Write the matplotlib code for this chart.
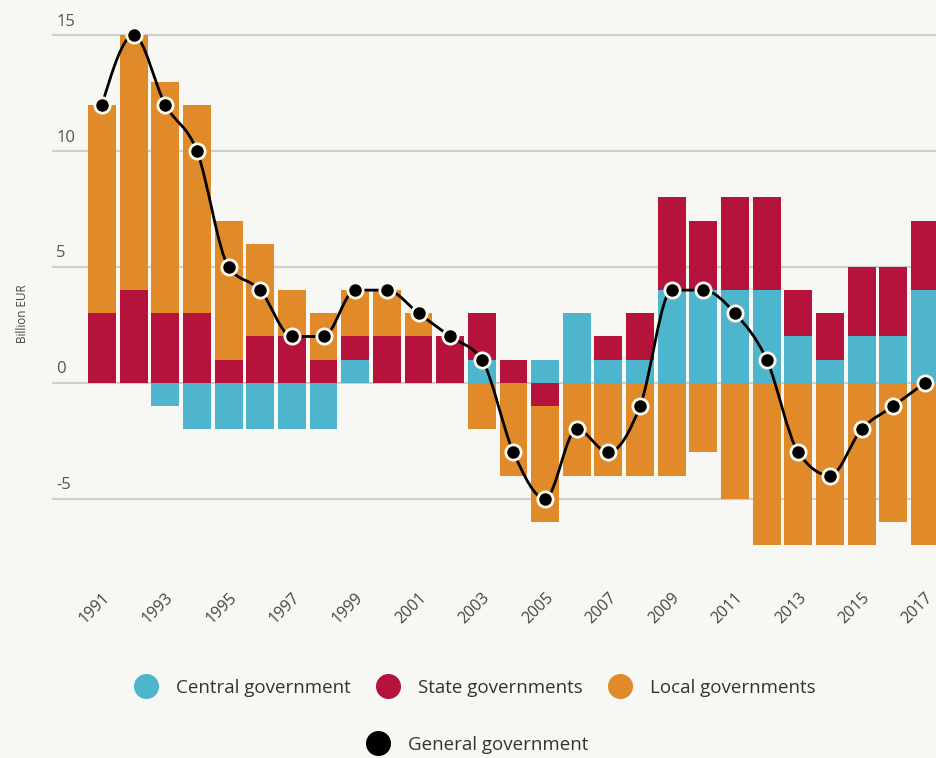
import matplotlib.pyplot as plt
import numpy as np
from matplotlib.path import Path
from matplotlib.patches import PathPatch
from matplotlib.lines import Line2D
from matplotlib.transforms import blended_transform_factory, offset_copy

plt.rcParams['font.family'] = ['Open Sans', 'DejaVu Sans']

years   = np.arange(1991, 2018)
central = [0, 0, -1, -2, -2, -2, -2, -2, 1, 0, 0, 0, 1, 0, 1, 3, 1, 1, 4, 4, 4, 4, 2, 1, 2, 2, 4]
state   = [3, 4, 3, 3, 1, 2, 2, 1, 1, 2, 2, 2, 2, 1, -1, 0, 1, 2, 4, 3, 4, 4, 2, 2, 3, 3, 3]
local   = [9, 11, 10, 9, 6, 4, 2, 2, 2, 2, 1, 0, -2, -4, -5, -4, -4, -4, -4, -3, -5, -7, -7, -7, -7, -6, -7]
general = [12, 15, 12, 10, 5, 4, 2, 2, 4, 4, 3, 2, 1, -3, -5, -2, -3, -1, 4, 4, 3, 1, -3, -4, -2, -1, 0]
yticks  = [15, 10, 5, 0, -5]
xlabels = years[::2]

bg     = '#f7f7f3'
c_cent = '#4fb5cd'
c_stat = '#b5123c'
c_loc  = '#e08a2a'

fig = plt.figure(figsize=(9.36, 7.58), dpi=100, facecolor=bg)
ax = fig.add_axes([52/936, 1-559/758, 884/936, 547/758], facecolor=bg)
ax.set_xlim(1989.42, 2017.35)
ax.set_ylim(-7.6, 16.0)

# stacked bars, positives upward and negatives downward from zero
pos = np.zeros(len(years))
neg = np.zeros(len(years))
for vals, col in [(central, c_cent), (state, c_stat), (local, c_loc)]:
    v = np.array(vals, dtype=float)
    p = np.where(v > 0, v, 0)
    n = np.where(v < 0, v, 0)
    ax.bar(years, p, bottom=pos, width=0.88, color=col, zorder=2, linewidth=0)
    ax.bar(years, n, bottom=neg, width=0.88, color=col, zorder=2, linewidth=0)
    pos += p
    neg += n

for t in yticks:
    ax.axhline(t, color='#cfcfcb', lw=1.6, zorder=1)

# monotone cubic curve through the general government points
x = years.astype(float)
g = np.array(general, dtype=float)
h = np.diff(x)
s = np.diff(g) / h
tan = np.zeros(len(x))
for i in range(1, len(x) - 1):
    p = (s[i-1] * h[i] + s[i] * h[i-1]) / (h[i-1] + h[i])
    tan[i] = (np.sign(s[i-1]) + np.sign(s[i])) * min(abs(s[i-1]), abs(s[i]), 0.5 * abs(p))
tan[0] = (3 * s[0] - tan[1]) / 2
tan[-1] = (3 * s[-1] - tan[-2]) / 2

verts = [(x[0], g[0])]
codes = [Path.MOVETO]
for i in range(len(x) - 1):
    d = h[i] / 3
    verts += [(x[i] + d, g[i] + d * tan[i]), (x[i+1] - d, g[i+1] - d * tan[i+1]), (x[i+1], g[i+1])]
    codes += [Path.CURVE4] * 3
ax.add_patch(PathPatch(Path(verts, codes), fill=False, edgecolor='black', lw=2, zorder=3))
ax.plot(years, general, 'o', color='black', ms=11, mec='#fbf8ee', mew=2, zorder=4)

for sp in ax.spines.values():
    sp.set_visible(False)
ax.set_yticks([])
ax.tick_params(axis='x', length=0, pad=22)
ax.set_xticks(xlabels)
ax.set_xticklabels([str(y) for y in xlabels], rotation=45, ha='right',
                   rotation_mode='anchor', fontsize=11.5, color='#444444')

# y labels sit just above their gridlines
trans = offset_copy(blended_transform_factory(ax.transAxes, ax.transData),
                    fig=fig, x=3, y=4, units='points')
for t in yticks:
    ax.text(0.0, t, str(t), transform=trans, ha='left', va='bottom',
            fontsize=12, color='#555555')

fig.text(23/936, 1-314/758, 'Billion EUR', rotation=90, ha='center', va='center',
         fontsize=8.5, color='#444444')

def dot(c):
    return Line2D([], [], marker='o', ls='', ms=17, color=c, mec=c)

fig.legend([dot(c_cent), dot(c_stat), dot(c_loc)],
           ['Central government', 'State governments', 'Local governments'],
           loc='center', bbox_to_anchor=(475/936, 1-688/758), ncol=3,
           frameon=False, fontsize=13.5, handlelength=1.2, handletextpad=1.0,
           columnspacing=1.4, labelcolor='#333333')
fig.legend([dot('black')], ['General government'], loc='center',
           bbox_to_anchor=(478/936, 1-745/758), frameon=False, fontsize=13.5,
           handlelength=1.2, handletextpad=1.0, labelcolor='#333333')

fig.savefig('out.png', dpi=100, facecolor=bg)
